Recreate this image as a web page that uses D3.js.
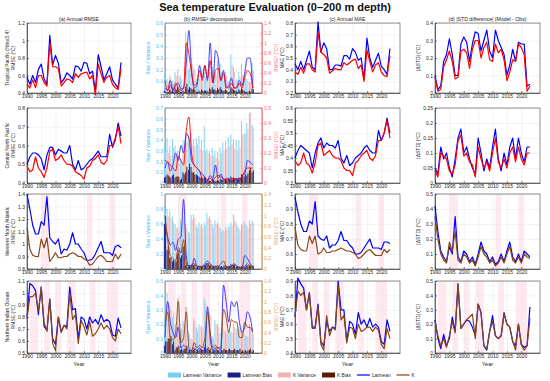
<!DOCTYPE html>
<html>
<head>
<meta charset="utf-8">
<script src="https://cdn.jsdelivr.net/npm/d3@7"></script>
<style>
  body { margin: 0; background: #fff; }
  svg { font-family: "Liberation Sans", Arial, sans-serif; }
</style>
</head>
<body>
<svg id="chart" width="550" height="381"></svg>
<script>
"use strict"

// ---------- data ----------
const years = d3.range(1990, 2024);
const xTicks = [1990, 1995, 2000, 2005, 2010, 2015, 2020];
const regionLabels = ["Tropical Pacific (Nino3.4)", "Central North Pacific", "Western North Atlantic", "Northern Indian Ocean"];
const panelTitles = ["(a) Annual RMSE", "(b) RMSE\u00b2 decomposition", "(c) Annual MAE", "(d) |STD difference| (Model - Obs)"];

// (a) annual RMSE
const rmseLatmean = [
  [0.58,0.50,0.60,0.52,0.67,0.73,0.56,0.50,1.06,0.72,0.83,0.74,0.52,0.56,0.63,0.60,0.56,0.71,0.70,0.65,0.75,0.74,0.62,0.65,0.42,0.84,0.70,0.55,0.62,0.70,0.55,0.50,0.46,0.75],
  [0.50,0.54,0.56,0.56,0.55,0.53,0.47,0.55,0.59,0.59,0.55,0.58,0.57,0.56,0.56,0.60,0.50,0.47,0.52,0.47,0.48,0.50,0.52,0.53,0.55,0.57,0.54,0.54,0.54,0.66,0.59,0.63,0.72,0.65],
  [1.40,1.28,1.15,1.08,1.08,1.18,1.15,1.38,1.05,1.02,1.00,1.04,0.92,0.96,0.95,1.00,1.09,1.00,1.00,0.96,0.93,0.87,0.87,0.88,0.92,0.97,1.02,0.93,0.93,0.93,0.91,0.98,0.99,0.97],
  [0.80,1.08,1.06,1.02,0.82,1.05,0.72,0.69,0.95,0.62,0.57,0.80,0.68,0.73,0.72,1.05,0.86,0.87,0.62,0.80,0.78,0.70,0.80,0.75,0.78,0.74,0.82,0.76,0.78,0.76,0.65,0.64,0.79,0.71]
];
const rmseK = [
  [0.50,0.46,0.55,0.46,0.60,0.60,0.52,0.48,0.97,0.70,0.70,0.68,0.48,0.52,0.56,0.55,0.52,0.62,0.58,0.62,0.63,0.64,0.56,0.60,0.38,0.73,0.62,0.52,0.58,0.60,0.50,0.46,0.44,0.68],
  [0.49,0.46,0.47,0.54,0.48,0.46,0.43,0.48,0.57,0.58,0.52,0.53,0.55,0.52,0.50,0.50,0.49,0.46,0.45,0.44,0.42,0.48,0.49,0.52,0.53,0.55,0.51,0.50,0.52,0.60,0.60,0.64,0.70,0.61],
  [1.13,0.96,0.91,0.90,0.90,1.04,0.97,1.05,0.86,0.89,0.93,0.89,0.89,0.90,0.90,0.92,0.93,0.92,0.90,0.90,0.88,0.87,0.83,0.84,0.87,0.90,0.91,0.89,0.86,0.86,0.86,0.92,0.88,0.92],
  [0.78,0.97,0.97,1.00,0.85,1.05,0.75,0.68,0.95,0.58,0.52,0.80,0.67,0.73,0.70,1.00,0.78,0.82,0.58,0.77,0.72,0.65,0.76,0.64,0.66,0.70,0.75,0.70,0.73,0.70,0.63,0.60,0.70,0.66]
];

// (b) RMSE^2 decomposition: bars on left axis, lines on right axis
const varLatmean = [
  [0.17,0.12,0.15,0.10,0.18,0.20,0.15,0.06,0.52,0.20,0.30,0.22,0.12,0.13,0.20,0.18,0.12,0.25,0.22,0.18,0.28,0.25,0.15,0.18,0.10,0.33,0.22,0.12,0.18,0.25,0.15,0.12,0.10,0.26],
  [0.35,0.42,0.34,0.41,0.35,0.30,0.22,0.40,0.44,0.45,0.47,0.41,0.42,0.44,0.40,0.53,0.32,0.30,0.33,0.30,0.29,0.33,0.38,0.39,0.43,0.45,0.41,0.40,0.40,0.58,0.47,0.56,0.65,0.54],
  [0.85,0.80,0.78,0.70,0.60,0.55,0.65,0.70,0.60,0.50,0.72,0.73,0.58,0.62,0.60,0.62,0.75,0.70,0.60,0.65,0.62,0.55,0.52,0.56,0.58,0.62,0.73,0.62,0.55,0.60,0.64,0.58,0.65,0.65],
  [0.24,0.42,0.33,0.25,0.20,0.38,0.16,0.22,0.32,0.15,0.10,0.24,0.18,0.20,0.19,0.38,0.30,0.28,0.12,0.23,0.20,0.14,0.17,0.15,0.16,0.15,0.20,0.17,0.18,0.16,0.13,0.12,0.20,0.14]
];
const varK = [
  [0.12,0.10,0.13,0.08,0.15,0.14,0.12,0.06,0.42,0.22,0.25,0.20,0.10,0.12,0.14,0.14,0.11,0.18,0.15,0.16,0.18,0.18,0.12,0.15,0.08,0.24,0.18,0.11,0.14,0.16,0.12,0.10,0.09,0.20],
  [0.30,0.28,0.26,0.33,0.28,0.24,0.20,0.28,0.38,0.40,0.35,0.34,0.36,0.32,0.30,0.30,0.28,0.26,0.25,0.24,0.22,0.28,0.30,0.32,0.34,0.36,0.32,0.30,0.33,0.45,0.46,0.50,0.66,0.52],
  [0.75,0.70,0.68,0.62,0.55,0.50,0.60,0.65,0.55,0.48,0.65,0.68,0.55,0.58,0.55,0.58,0.68,0.65,0.55,0.60,0.58,0.50,0.50,0.52,0.55,0.58,0.65,0.58,0.52,0.58,0.60,0.55,0.60,0.62],
  [0.22,0.35,0.30,0.28,0.18,0.39,0.17,0.20,0.32,0.13,0.09,0.22,0.15,0.18,0.17,0.35,0.25,0.26,0.10,0.20,0.18,0.13,0.16,0.14,0.15,0.14,0.18,0.16,0.17,0.15,0.12,0.11,0.18,0.13]
];
const biasLatmean = [
  [0.02,0.01,0.03,0.02,0.04,0.05,0.01,0.02,0.05,0.03,0.04,0.04,0.01,0.02,0.03,0.02,0.02,0.04,0.05,0.03,0.04,0.05,0.02,0.03,0.01,0.05,0.03,0.02,0.03,0.04,0.02,0.01,0.02,0.04],
  [0.05,0.08,0.06,0.07,0.05,0.06,0.03,0.10,0.10,0.12,0.15,0.10,0.08,0.06,0.05,0.06,0.03,0.02,0.04,0.02,0.03,0.04,0.03,0.04,0.05,0.06,0.05,0.04,0.05,0.08,0.06,0.07,0.12,0.10],
  [0.60,0.25,0.15,0.10,0.10,0.20,0.15,0.30,0.05,0.03,0.05,0.05,0.02,0.03,0.03,0.05,0.08,0.05,0.03,0.03,0.02,0.03,0.02,0.02,0.04,0.06,0.05,0.03,0.03,0.03,0.03,0.05,0.05,0.04],
  [0.05,0.08,0.10,0.06,0.02,0.04,0.02,0.02,0.03,0.01,0.02,0.02,0.01,0.02,0.02,0.04,0.03,0.02,0.01,0.02,0.02,0.01,0.02,0.02,0.02,0.02,0.02,0.02,0.02,0.01,0.01,0.01,0.02,0.01]
];
const biasK = [
  [0.01,0.01,0.02,0.01,0.03,0.03,0.01,0.01,0.08,0.05,0.03,0.03,0.01,0.01,0.02,0.02,0.01,0.03,0.03,0.02,0.03,0.03,0.02,0.02,0.01,0.04,0.02,0.01,0.02,0.03,0.01,0.01,0.01,0.03],
  [0.06,0.07,0.05,0.08,0.06,0.06,0.04,0.08,0.15,0.18,0.10,0.08,0.07,0.05,0.04,0.05,0.03,0.02,0.03,0.02,0.02,0.03,0.03,0.03,0.04,0.05,0.04,0.04,0.05,0.07,0.08,0.09,0.14,0.12],
  [0.70,0.30,0.15,0.12,0.10,0.25,0.18,0.30,0.08,0.05,0.06,0.06,0.03,0.04,0.04,0.06,0.08,0.06,0.04,0.04,0.03,0.04,0.05,0.03,0.04,0.06,0.05,0.04,0.03,0.03,0.03,0.05,0.04,0.04],
  [0.08,0.10,0.12,0.08,0.04,0.05,0.03,0.03,0.05,0.02,0.02,0.03,0.02,0.03,0.02,0.06,0.04,0.03,0.02,0.03,0.02,0.02,0.03,0.02,0.03,0.02,0.03,0.02,0.03,0.02,0.02,0.02,0.03,0.02]
];
const rmse2Latmean = [
  [0.10,0.05,0.25,0.05,0.15,0.20,0.08,0.10,0.60,1.25,0.45,0.10,0.15,0.55,0.30,0.55,0.25,1.00,0.20,0.85,0.70,0.25,0.45,0.10,0.15,0.30,0.10,0.12,0.25,0.15,0.40,0.70,0.70,0.10],
  [0.10,0.14,0.08,0.12,0.20,0.15,0.25,0.20,0.33,0.30,0.15,0.12,0.10,0.08,0.03,0.02,0.02,0.05,0.03,0.12,0.03,0.06,0.02,0.03,0.02,0.01,0.02,0.02,0.01,0.05,0.06,0.15,0.14,0.12],
  [0.85,0.60,0.45,0.50,0.35,0.55,0.60,1.30,0.25,0.05,0.05,0.20,0.05,0.05,0.05,0.10,0.15,0.10,0.05,0.05,0.05,0.03,0.02,0.05,0.03,0.05,0.10,0.05,0.03,0.02,0.25,0.20,0.10,0.05],
  [0.30,1.00,0.60,0.40,0.30,0.50,0.10,0.15,0.10,0.05,0.05,0.10,0.05,0.10,0.05,0.05,0.90,0.30,0.05,0.10,0.10,0.05,1.32,1.00,0.60,1.00,0.90,1.00,0.60,0.40,0.50,0.80,0.70,0.40]
];
const rmse2K = [
  [0.25,0.05,0.15,0.05,0.20,0.10,0.05,0.10,1.00,0.78,0.40,0.15,0.20,0.45,0.25,0.55,0.30,0.65,0.20,0.45,0.50,0.25,0.40,0.15,0.10,0.20,0.10,0.10,0.20,0.10,0.30,0.45,0.40,0.10],
  [0.15,0.14,0.12,0.10,0.08,0.18,0.15,0.12,0.35,0.44,0.20,0.12,0.10,0.08,0.06,0.04,0.02,0.03,0.02,0.04,0.05,0.04,0.03,0.02,0.02,0.02,0.03,0.03,0.02,0.04,0.08,0.10,0.10,0.10],
  [1.00,0.55,0.25,0.20,0.15,0.40,0.30,0.55,0.10,0.05,0.08,0.10,0.05,0.05,0.04,0.05,0.10,0.05,0.04,0.05,0.05,0.10,0.15,0.05,0.03,0.05,0.08,0.05,0.03,0.04,0.05,0.10,0.06,0.05],
  [0.50,0.80,0.30,0.25,0.40,1.00,0.20,0.30,0.80,0.10,0.05,0.20,0.10,0.15,0.10,0.30,0.80,0.40,0.10,0.15,0.10,0.10,0.85,0.70,0.40,0.65,0.60,0.60,0.30,0.30,0.60,0.50,0.50,0.40]
];

// (c) annual MAE
const maeLatmean = [
  [0.45,0.40,0.47,0.40,0.48,0.56,0.42,0.40,0.81,0.55,0.63,0.58,0.40,0.40,0.44,0.44,0.43,0.52,0.52,0.49,0.58,0.55,0.48,0.50,0.32,0.67,0.50,0.42,0.48,0.54,0.43,0.40,0.36,0.58],
  [0.40,0.43,0.45,0.44,0.43,0.42,0.36,0.42,0.46,0.48,0.44,0.46,0.45,0.45,0.44,0.47,0.40,0.38,0.41,0.37,0.38,0.40,0.41,0.42,0.44,0.45,0.43,0.42,0.42,0.51,0.47,0.50,0.56,0.50],
  [0.98,0.88,0.80,0.75,0.75,0.82,0.80,0.95,0.72,0.70,0.69,0.72,0.64,0.66,0.66,0.69,0.75,0.69,0.69,0.66,0.64,0.60,0.60,0.61,0.64,0.67,0.70,0.64,0.64,0.64,0.63,0.68,0.68,0.67],
  [0.65,0.92,0.88,0.85,0.70,0.82,0.58,0.58,0.74,0.48,0.45,0.62,0.55,0.58,0.57,0.90,0.70,0.70,0.48,0.62,0.60,0.53,0.68,0.60,0.63,0.58,0.64,0.58,0.60,0.58,0.48,0.46,0.63,0.55]
];
const maeK = [
  [0.38,0.36,0.42,0.37,0.45,0.45,0.40,0.38,0.72,0.55,0.53,0.50,0.37,0.39,0.41,0.40,0.40,0.46,0.44,0.46,0.48,0.49,0.41,0.44,0.30,0.57,0.47,0.38,0.44,0.46,0.38,0.35,0.34,0.52],
  [0.39,0.37,0.38,0.42,0.38,0.37,0.34,0.38,0.45,0.46,0.41,0.42,0.43,0.41,0.40,0.40,0.39,0.36,0.35,0.35,0.33,0.38,0.39,0.41,0.42,0.43,0.40,0.39,0.41,0.47,0.47,0.50,0.55,0.48],
  [0.78,0.66,0.63,0.62,0.62,0.72,0.67,0.72,0.60,0.61,0.64,0.61,0.61,0.62,0.62,0.63,0.64,0.63,0.62,0.62,0.61,0.60,0.57,0.58,0.60,0.62,0.63,0.61,0.59,0.59,0.59,0.63,0.61,0.63],
  [0.65,0.83,0.80,0.82,0.70,0.82,0.57,0.57,0.72,0.46,0.42,0.66,0.52,0.58,0.56,0.87,0.63,0.66,0.47,0.58,0.57,0.50,0.60,0.55,0.56,0.58,0.58,0.55,0.58,0.56,0.46,0.43,0.57,0.50]
];

// (d) |STD difference|
const stdLatmean = [
  [0.10,0.02,0.04,0.18,0.22,0.31,0.22,0.10,0.10,0.28,0.32,0.29,0.18,0.28,0.35,0.34,0.24,0.30,0.36,0.24,0.20,0.36,0.30,0.26,0.22,0.10,0.16,0.25,0.18,0.29,0.28,0.28,0.04,0.05],
  [0.05,0.03,0.12,0.08,0.10,0.05,0.02,0.08,0.15,0.18,0.10,0.12,0.08,0.05,0.03,0.15,0.10,0.04,0.08,0.05,0.12,0.18,0.08,0.04,0.10,0.06,0.12,0.15,0.08,0.15,0.10,0.07,0.12,0.12],
  [0.42,0.25,0.12,0.08,0.05,0.15,0.10,0.35,0.08,0.05,0.12,0.10,0.05,0.08,0.03,0.10,0.18,0.12,0.10,0.05,0.08,0.03,0.05,0.10,0.05,0.12,0.18,0.08,0.05,0.10,0.05,0.12,0.10,0.08],
  [0.23,0.10,0.03,0.13,0.05,0.10,0.25,0.15,0.48,0.17,0.20,0.23,0.22,0.18,0.12,0.34,0.28,0.05,0.02,0.15,0.26,0.12,0.10,0.12,0.28,0.20,0.18,0.08,0.05,0.20,0.06,0.04,0.05,0.32]
];
const stdK = [
  [0.09,0.01,0.02,0.15,0.19,0.24,0.18,0.08,0.09,0.24,0.25,0.23,0.14,0.25,0.30,0.30,0.20,0.26,0.29,0.19,0.18,0.28,0.23,0.25,0.19,0.07,0.12,0.19,0.18,0.28,0.26,0.22,0.01,0.04],
  [0.04,0.02,0.10,0.09,0.08,0.04,0.03,0.06,0.14,0.16,0.09,0.10,0.07,0.06,0.02,0.12,0.08,0.05,0.07,0.04,0.10,0.15,0.07,0.05,0.08,0.05,0.10,0.12,0.07,0.12,0.08,0.06,0.10,0.10],
  [0.35,0.20,0.10,0.06,0.04,0.18,0.12,0.25,0.06,0.04,0.10,0.08,0.04,0.06,0.02,0.08,0.15,0.10,0.08,0.04,0.06,0.02,0.04,0.08,0.04,0.10,0.15,0.06,0.04,0.08,0.04,0.10,0.08,0.07],
  [0.22,0.12,0.05,0.10,0.04,0.12,0.22,0.14,0.48,0.17,0.20,0.23,0.25,0.27,0.10,0.34,0.28,0.05,0.03,0.15,0.22,0.12,0.10,0.12,0.27,0.20,0.18,0.08,0.02,0.20,0.06,0.02,0.05,0.24]
];

// axis ranges [min, max, step] per row
const rmseAxis  = [[0.4,1.2,0.2],[0.4,0.8,0.1],[0.8,1.4,0.1],[0.5,1.1,0.1]];
const biasAxis  = [[0,0.6,0.1],[0,0.7,0.1],[0,1,0.2],[0,0.5,0.1]];
const rmse2Axis = [[0,1.4,0.2],[0,0.5,0.1],[0,1.4,0.2],[0,1.4,0.2]];
const maeAxis   = [[0.2,0.8,0.1],[0.3,0.6,0.05],[0.5,1.0,0.1],[0.4,0.9,0.1]];
const stdAxis   = [[0,0.4,0.1],[0,0.25,0.05],[0,0.5,0.1],[0,0.5,0.1]];

// pink shaded year spans (rows 3 and 4)
const shadeSpans = [[], [], [[1995,1998],[2011,2013],[2019,2021]],
  [[1991,1994],[1996,1998],[2000,2002],[2004,2007],[2012,2014],[2018,2022]]];

// legend entries
const legendLabels = ["Latmean Variance", "Latmean Bias", "K Variance", "K Bias", "Latmean", "K"];

// ---------- layout / style ----------
const xDomain = [1990, 2026.5];
const colX = [[27,131],[165,262],[295,400],[435,540]];
const rowY = [[23,93],[108,183],[194,269],[281,353]];
const blue = "#0000ff";
const kColor = ["#ff0000","#ff0000","#8b4513","#8b4513"];
const rightColor = ["#ff6b6b","#ff6b6b","#d9a55a","#d9a55a"];
const cyan = "#4dbeee";
const latVarFill = "#7ccdf0", latBiasFill = "#1c1f8a", kVarFill = "#f2b3b3", kBiasFill = "#5c1a08";
const txt = "#262626";
const fs = 5;

const svg = d3.select("#chart");

function ticksOf(a) {
  const n = Math.round((a[1] - a[0]) / a[2]);
  return d3.range(n + 1).map(i => +(a[0] + i * a[2]).toFixed(3));
}

function styleAxis(g, color) {
  g.select(".domain").attr("stroke", color).attr("stroke-width", 0.6);
  g.selectAll(".tick line").attr("stroke", color).attr("stroke-width", 0.5);
  g.selectAll(".tick text").attr("fill", color).style("font-size", fs + "px");
}

function makePanel(r, c, axisDef, leftColor) {
  const [x0, x1] = colX[c], [y0, y1] = rowY[r];
  const x = d3.scaleLinear().domain(xDomain).range([x0, x1]);
  const y = d3.scaleLinear().domain([axisDef[0], axisDef[1]]).range([y1, y0]);
  const g = svg.append("g");

  shadeSpans[r].forEach(s => {
    g.append("rect").attr("x", x(s[0])).attr("y", y0)
      .attr("width", x(s[1]) - x(s[0])).attr("height", y1 - y0)
      .attr("fill", "#ffe9f1");
  });

  // grid
  g.append("g").attr("transform", `translate(0,${y1})`)
    .call(d3.axisBottom(x).tickValues(xTicks).tickSize(-(y1 - y0)).tickFormat(""))
    .call(s => s.select(".domain").remove())
    .selectAll("line").attr("stroke", "#e6e6e6").attr("stroke-width", 0.5);
  g.append("g").attr("transform", `translate(${x0},0)`)
    .call(d3.axisLeft(y).tickValues(ticksOf(axisDef)).tickSize(-(x1 - x0)).tickFormat(""))
    .call(s => s.select(".domain").remove())
    .selectAll("line").attr("stroke", "#e6e6e6").attr("stroke-width", 0.5);

  // box
  g.append("rect").attr("x", x0).attr("y", y0).attr("width", x1 - x0).attr("height", y1 - y0)
    .attr("fill", "none").attr("stroke", txt).attr("stroke-width", 0.5);

  const xa = g.append("g").attr("transform", `translate(0,${y1})`)
    .call(d3.axisBottom(x).tickValues(xTicks).tickSizeInner(-2).tickSizeOuter(0).tickPadding(1.5).tickFormat(d3.format("d")));
  styleAxis(xa, txt);

  const ya = g.append("g").attr("transform", `translate(${x0},0)`)
    .call(d3.axisLeft(y).tickValues(ticksOf(axisDef)).tickSizeInner(-2).tickSizeOuter(0).tickPadding(2).tickFormat(d3.format("~g")));
  styleAxis(ya, leftColor || txt);

  return { g, x, y };
}

function drawLine(p, values, color, curve, width) {
  p.g.append("path")
    .datum(values.map((v, i) => [years[i], v]))
    .attr("fill", "none").attr("stroke", color).attr("stroke-width", width || 1.2)
    .attr("stroke-linejoin", "round")
    .attr("d", d3.line().x(d => p.x(d[0])).y(d => p.y(d[1])).curve(curve || d3.curveLinear));
}

function yLabel(xPos, yMid, lines, color) {
  const t = svg.append("text").attr("transform", `translate(${xPos},${yMid}) rotate(-90)`)
    .attr("text-anchor", "middle").attr("fill", color || txt).style("font-size", fs + "px");
  lines.forEach((l, i) => t.append("tspan").attr("x", 0).attr("dy", i === 0 ? 0 : "1.15em").text(l));
}

// ---------- title ----------
svg.append("text").attr("x", 275).attr("y", 11).attr("text-anchor", "middle")
  .style("font-size", "11px").style("font-weight", "bold").attr("fill", "#111")
  .text("Sea temperature Evaluation (0\u2013200 m depth)");

panelTitles.forEach((t, c) => {
  svg.append("text").attr("x", (colX[c][0] + colX[c][1]) / 2).attr("y", rowY[0][0] - 2)
    .attr("text-anchor", "middle").attr("fill", txt).style("font-size", "5.2px").text(t);
});

// ---------- panels ----------
for (let r = 0; r < 4; r++) {
  const ym = (rowY[r][0] + rowY[r][1]) / 2;

  // (a)
  const pa = makePanel(r, 0, rmseAxis[r]);
  drawLine(pa, rmseLatmean[r], blue);
  drawLine(pa, rmseK[r], kColor[r]);
  yLabel(9, ym, [regionLabels[r], "RMSE (\u00b0C)"]);

  // (b)
  const pb = makePanel(r, 1, biasAxis[r], cyan);
  const bw = 1.0;
  const bars = [
    [varLatmean[r], latVarFill, -0.6, 0.9],
    [varK[r], kVarFill, 0.6, 0.9],
    [biasLatmean[r], latBiasFill, -0.6, 1],
    [biasK[r], kBiasFill, 0.6, 1]
  ];
  bars.forEach(([vals, fill, off, op]) => {
    pb.g.append("g").selectAll("rect").data(vals).join("rect")
      .attr("x", (d, i) => pb.x(years[i]) + off - bw / 2)
      .attr("width", bw)
      .attr("y", d => pb.y(d))
      .attr("height", d => pb.y(0) - pb.y(d))
      .attr("fill", fill).attr("opacity", op);
  });
  const yr = d3.scaleLinear().domain([rmse2Axis[r][0], rmse2Axis[r][1]]).range(pb.y.range());
  const ra = pb.g.append("g").attr("transform", `translate(${colX[1][1]},0)`)
    .call(d3.axisRight(yr).tickValues(ticksOf(rmse2Axis[r])).tickSizeInner(-2).tickSizeOuter(0).tickPadding(2).tickFormat(d3.format("~g")));
  styleAxis(ra, rightColor[r]);
  drawLine({ g: pb.g, x: pb.x, y: yr }, rmse2Latmean[r], "#2a2aff", d3.curveMonotoneX, 0.9);
  drawLine({ g: pb.g, x: pb.x, y: yr }, rmse2K[r], kColor[r], d3.curveMonotoneX, 0.9);
  yLabel(150, ym, ["Bias / Variance"], cyan);
  yLabel(278, ym, ["RMSE\u00b2 (\u00b0C\u00b2)"], rightColor[r]);

  // (c)
  const pc = makePanel(r, 2, maeAxis[r]);
  drawLine(pc, maeLatmean[r], blue);
  drawLine(pc, maeK[r], kColor[r]);
  yLabel(284, ym, ["MAE (\u00b0C)"]);

  // (d)
  const pd = makePanel(r, 3, stdAxis[r]);
  drawLine(pd, stdLatmean[r], blue);
  drawLine(pd, stdK[r], kColor[r]);
  yLabel(420, ym, ["|\u0394STD| (\u00b0C)"]);
}

// x labels
colX.forEach(([a, b]) => {
  svg.append("text").attr("x", (a + b) / 2).attr("y", rowY[3][1] + 13)
    .attr("text-anchor", "middle").attr("fill", txt).style("font-size", "5.6px").text("Year");
});

// ---------- legend ----------
const legendStyle = [
  { type: "bar", fill: latVarFill }, { type: "bar", fill: latBiasFill },
  { type: "bar", fill: kVarFill }, { type: "bar", fill: kBiasFill },
  { type: "line", fill: blue }, { type: "line", fill: "#8b4513" }
];
const ly = 375;
let lx = 168;
legendLabels.forEach((label, i) => {
  const st = legendStyle[i];
  if (st.type === "bar") {
    svg.append("rect").attr("x", lx).attr("y", ly - 2.5).attr("width", 13).attr("height", 5).attr("fill", st.fill);
  } else {
    svg.append("line").attr("x1", lx).attr("x2", lx + 13).attr("y1", ly).attr("y2", ly)
      .attr("stroke", st.fill).attr("stroke-width", 1.2);
  }
  const t = svg.append("text").attr("x", lx + 15).attr("y", ly + 1.8).attr("fill", txt)
    .style("font-size", "4.8px").text(label);
  lx += 15 + t.node().getComputedTextLength() + 6;
});
</script>
</body>
</html>
